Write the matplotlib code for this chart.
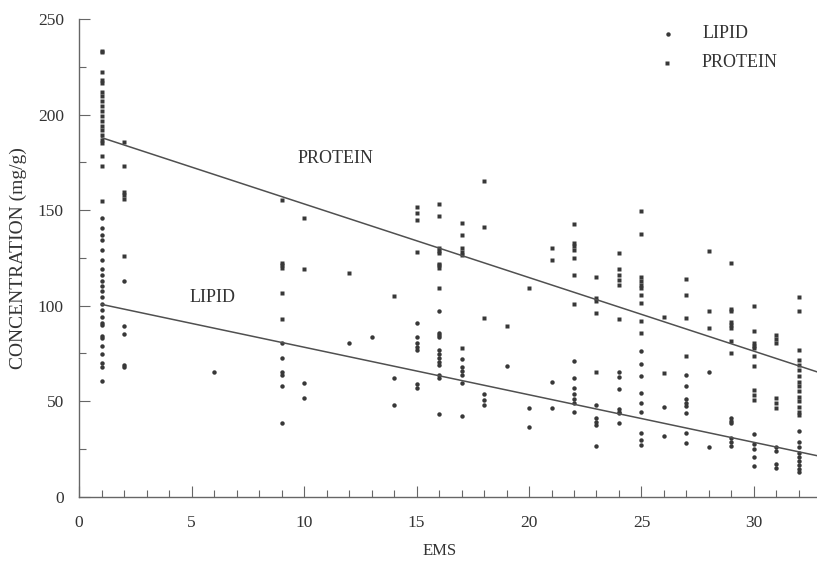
import numpy as np
import matplotlib
matplotlib.use("Agg")
import matplotlib.pyplot as plt
from matplotlib.ticker import MultipleLocator

plt.rcParams['font.family'] = ['Liberation Serif', 'DejaVu Serif']

# EMS columns and concentration readings (mg/g)
protein_counts = [(1, 20), (2, 6), (9, 6), (10, 2), (12, 1), (14, 1), (15, 4), (16, 9),
                  (17, 6), (18, 3), (19, 1), (20, 1), (21, 2), (22, 7), (23, 5), (24, 6),
                  (25, 10), (26, 2), (27, 4), (28, 3), (29, 8), (30, 10), (31, 6), (32, 15)]
protein_conc = [
    233.4, 232.6, 222.4, 218, 216.3, 212, 209.7, 207, 204.5, 201.8, 199.2, 196.6, 194, 191.9,
    189.3, 186.6, 184.9, 178.3, 173, 154.7,
    185.4, 173.2, 159.6, 157.9, 155.8, 125.9,
    155.2, 122.1, 121, 119.5, 106.7, 92.8,
    145.7, 119,
    116.9,
    105,
    151.7, 148.3, 144.8, 128.2,
    153.1, 147, 130, 128.5, 127.3, 122, 121, 119.5, 109.3,
    143, 136.9, 130, 128, 126.4, 77.6,
    165.3, 140.9, 93.5,
    89.4,
    109,
    130.1, 123.8,
    142.5, 132.9, 131, 129, 124.7, 116, 100.8,
    115.1, 104.1, 102.5, 96.2, 65,
    127.3, 119, 116, 113.5, 110.7, 92.8,
    149.6, 137.3, 115, 113, 111, 109, 105.5, 101.2, 92, 85.4,
    93.8, 64.5,
    113.7, 105.5, 93.3, 73.7,
    128.4, 97.1, 88.4,
    122.1, 98, 97.1, 91.2, 89.6, 88.1, 81.4, 75,
    99.9, 86.6, 80.5, 79, 77.6, 73.6, 68.3, 55.8, 53, 50.5,
    84.6, 82.5, 80.5, 51.4, 48.8, 46.2,
    104.6, 97.1, 76.7, 71.5, 69, 66, 63, 60, 58, 55, 52, 50, 47, 44.5, 42.7,
]

lipid_counts = [(1, 24), (2, 5), (6, 1), (9, 6), (10, 2), (12, 1), (13, 1), (14, 2), (15, 7),
                (16, 12), (17, 6), (18, 3), (19, 1), (20, 2), (21, 2), (22, 7), (23, 5),
                (24, 7), (25, 9), (26, 2), (27, 8), (28, 2), (29, 6), (30, 5), (31, 4), (32, 9)]
lipid_conc = [
    145.7, 140.4, 137, 134.3, 129, 124, 119, 116, 113, 110, 107.6, 104.6, 100.6, 97.6, 94, 91,
    89.8, 84, 83, 79, 74.4, 69.7, 68, 60.5,
    113, 89.3, 85.1, 68.8, 67.6,
    65.3,
    80.2, 72.4, 65.3, 63.6, 57.9, 38.3,
    59.6, 51.7,
    80.5,
    83.4,
    61.9, 47.7,
    90.7, 83.7, 80.2, 78.5, 76.7, 58.9, 56.6,
    97.1, 85.8, 84.7, 83.7, 76.7, 74.6, 72.5, 70.6, 68.8, 63.6, 61.9, 43.2,
    71.8, 68, 65.8, 63.6, 59.3, 42.3,
    53.5, 50.5, 47.9,
    68.3,
    46.2, 36.2,
    60.1, 46.2,
    71.1, 61.9, 56.6, 53.5, 51, 48.8, 44.1,
    47.9, 40.9, 39, 37.4, 26.4,
    65, 62.4, 56.1, 45.7, 44.5, 43.6, 38.3,
    76.3, 69.4, 63.1, 54.3, 48.8, 44.4, 33.1, 29.6, 27,
    47, 31.7,
    63.6, 58, 50.9, 49.2, 47.4, 43.6, 33.4, 28.2,
    65, 25.8,
    40.9, 39.8, 38.6, 30.5, 28.5, 26.4,
    32.6, 27.5, 24.7, 20.5, 16.1,
    26.1, 24, 17, 14.8,
    34.4, 28.7, 26, 22.6, 20.5, 18.5, 16.5, 14.5, 13,
]

# fitted lines as drawn (end points)
fit_x = [1, 32.8]
protein_fit = [187.9, 65.3]
lipid_fit = [100.6, 21.4]

protein_ems = [e for e, n in protein_counts for _ in range(n)]
lipid_ems = [e for e, n in lipid_counts for _ in range(n)]

ink = '#383838'
txt = '#333333'

fig = plt.figure(figsize=(8.17, 5.62), dpi=100)
ax = fig.add_axes([0.0969, 0.1165, 0.903, 0.8496])

ax.plot(protein_ems, protein_conc, 's', ms=3.4, color=ink, mec='none')
ax.plot(lipid_ems, lipid_conc, 'o', ms=3.2, color=ink, mec='none')
ax.plot(fit_x, protein_fit, color='#505050', lw=1.1)
ax.plot(fit_x, lipid_fit, color='#505050', lw=1.1)

ax.text(11.4, 177, 'PROTEIN', fontsize=13, color=txt, ha='center', va='center')
ax.text(5.95, 104, 'LIPID', fontsize=13, color=txt, ha='center', va='center')

# legend drawn by hand, no frame
ax.plot([0.798], [0.969], 'o', ms=3.2, color=ink, mec='none', transform=ax.transAxes, clip_on=False)
ax.plot([0.797], [0.908], 's', ms=3.4, color=ink, mec='none', transform=ax.transAxes, clip_on=False)
ax.text(0.845, 0.969, 'LIPID', fontsize=13, color=txt, va='center', transform=ax.transAxes)
ax.text(0.843, 0.908, 'PROTEIN', fontsize=13, color=txt, va='center', transform=ax.transAxes)

ax.set_xlim(0, 32.8)
ax.set_ylim(0, 250)
ax.xaxis.set_major_locator(MultipleLocator(5))
ax.xaxis.set_minor_locator(MultipleLocator(1))
ax.yaxis.set_major_locator(MultipleLocator(50))
ax.yaxis.set_minor_locator(MultipleLocator(25))
ax.tick_params(which='major', direction='in', length=8, width=0.8, color='#666666',
               labelsize=12.5, labelcolor=txt)
ax.tick_params(which='minor', direction='in', length=5, width=0.8, color='#666666')
ax.tick_params(axis='x', which='major', pad=13)
ax.tick_params(axis='y', which='major', pad=11)

for s in ['top', 'right']:
    ax.spines[s].set_visible(False)
for s in ['left', 'bottom']:
    ax.spines[s].set_color('#666666')
    ax.spines[s].set_linewidth(1.0)

ax.set_xlabel('EMS', fontsize=12, color=txt)
ax.set_ylabel('CONCENTRATION (mg/g)', fontsize=14, color=txt)
ax.xaxis.set_label_coords(0.489, -0.097)
ax.yaxis.set_label_coords(-0.0707, 0.5)

fig.savefig('out.png', dpi=100)
